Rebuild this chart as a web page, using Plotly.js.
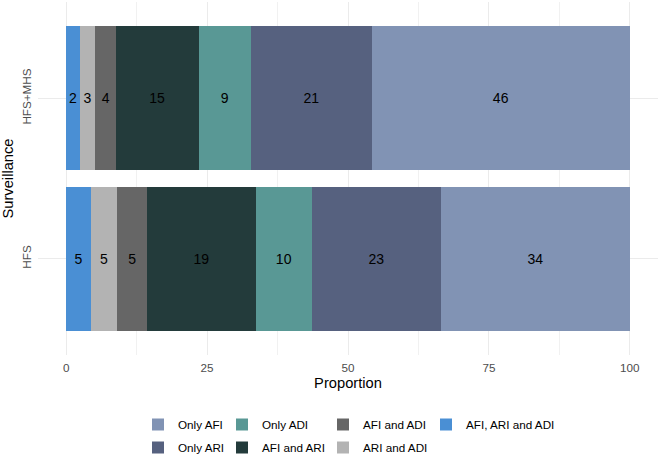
<!DOCTYPE html>
<html>
<head>
<meta charset="utf-8">
<script src="https://cdn.plot.ly/plotly-3.0.1.min.js"></script>
<style>html,body{margin:0;padding:0;background:#fff;}#chart{width:661px;height:460px;}</style>
</head>
<body>
<div id="chart"></div>
<script>
// Categories (bottom to top)
const categories = ['HFS', 'HFS+MHS'];
// Stack order from left to right
const groups = ['AFI, ARI and ADI', 'ARI and ADI', 'AFI and ADI', 'AFI and ARI', 'Only ADI', 'Only ARI', 'Only AFI'];
// Proportions (%) per group
const hfsValues = [4.4, 4.6, 5.4, 19.2, 10.0, 22.9, 33.5];
const mhsValues = [2.4, 2.8, 3.6, 14.7, 9.3, 21.4, 45.8];
// Printed labels
const hfsLabels = ['5', '5', '5', '19', '10', '23', '34'];
const mhsLabels = ['2', '3', '4', '15', '9', '21', '46'];
const colors = ['#4a8fd4', '#b3b3b3', '#666666', '#233b3b', '#599895', '#56617f', '#8193b4'];
// Legend placement (column, row) as in the original key
const legendCol = [3, 2, 2, 1, 1, 0, 0];
const legendRow = [0, 1, 0, 1, 0, 1, 0];

const colX = [138, 222, 323, 426];
const rowY = [424.5, 447.5];
const L = 38, R = 3, T = 2, B = 105, W = 661, H = 460;
const pw = W - L - R, ph = H - T - B;

const traces = [];
const legends = {};
groups.forEach((g, i) => {
  const lname = i === 0 ? 'legend' : 'legend' + (i + 1);
  traces.push({
    type: 'bar',
    orientation: 'h',
    name: g,
    y: categories,
    x: [hfsValues[i], mhsValues[i]],
    text: [hfsLabels[i], mhsLabels[i]],
    texttemplate: '%{text}',
    textposition: 'inside',
    insidetextanchor: 'middle',
    textangle: 0,
    constraintext: 'none',
    textfont: {family: 'Liberation Sans, Arial, sans-serif', size: 14, color: '#000000'},
    marker: {color: colors[i], line: {width: 0}},
    width: 0.9,
    legend: lname,
    hoverinfo: 'skip'
  });
  legends[lname] = {
    x: (colX[legendCol[i]] - L) / pw,
    y: (T + ph - rowY[legendRow[i]]) / ph,
    xanchor: 'left',
    yanchor: 'middle',
    orientation: 'v',
    bgcolor: 'rgba(0,0,0,0)',
    font: {family: 'Liberation Sans, Arial, sans-serif', size: 11.7, color: '#000000'}
  };
});

const layout = Object.assign({
  width: W, height: H,
  margin: {l: L, r: R, t: T, b: B, autoexpand: false},
  paper_bgcolor: '#ffffff',
  plot_bgcolor: '#ffffff',
  barmode: 'stack',
  bargap: 0.1,
  font: {family: 'Liberation Sans, Arial, sans-serif', color: '#000000'},
  xaxis: {
    range: [-5, 105],
    tickvals: [0, 25, 50, 75, 100],
    ticktext: ['0', '25', '50', '75', '100'],
    showgrid: true, gridcolor: '#ebebeb', gridwidth: 1,
    minor: {tick0: 0, dtick: 12.5, showgrid: true, gridcolor: '#f1f1f1', gridwidth: 1},
    zeroline: false, showline: false, ticks: '',
    ticklabelstandoff: 4,
    tickfont: {size: 11.7, color: '#4d4d4d'},
    title: {text: 'Proportion', font: {size: 14.7, color: '#000000'}, standoff: 5},
    fixedrange: true
  },
  yaxis: {
    type: 'category',
    range: [-0.6, 1.6],
    showgrid: true, gridcolor: '#ebebeb', gridwidth: 1,
    zeroline: false, showline: false, ticks: '',
    tickangle: -90,
    ticklabelstandoff: 4,
    tickfont: {size: 11.7, color: '#4d4d4d'},
    title: {text: 'Surveillance', font: {size: 14.7, color: '#000000'}, standoff: 6},
    fixedrange: true
  },
  showlegend: true
}, legends);

Plotly.newPlot('chart', traces, layout, {displayModeBar: false, staticPlot: true});
</script>
</body>
</html>
